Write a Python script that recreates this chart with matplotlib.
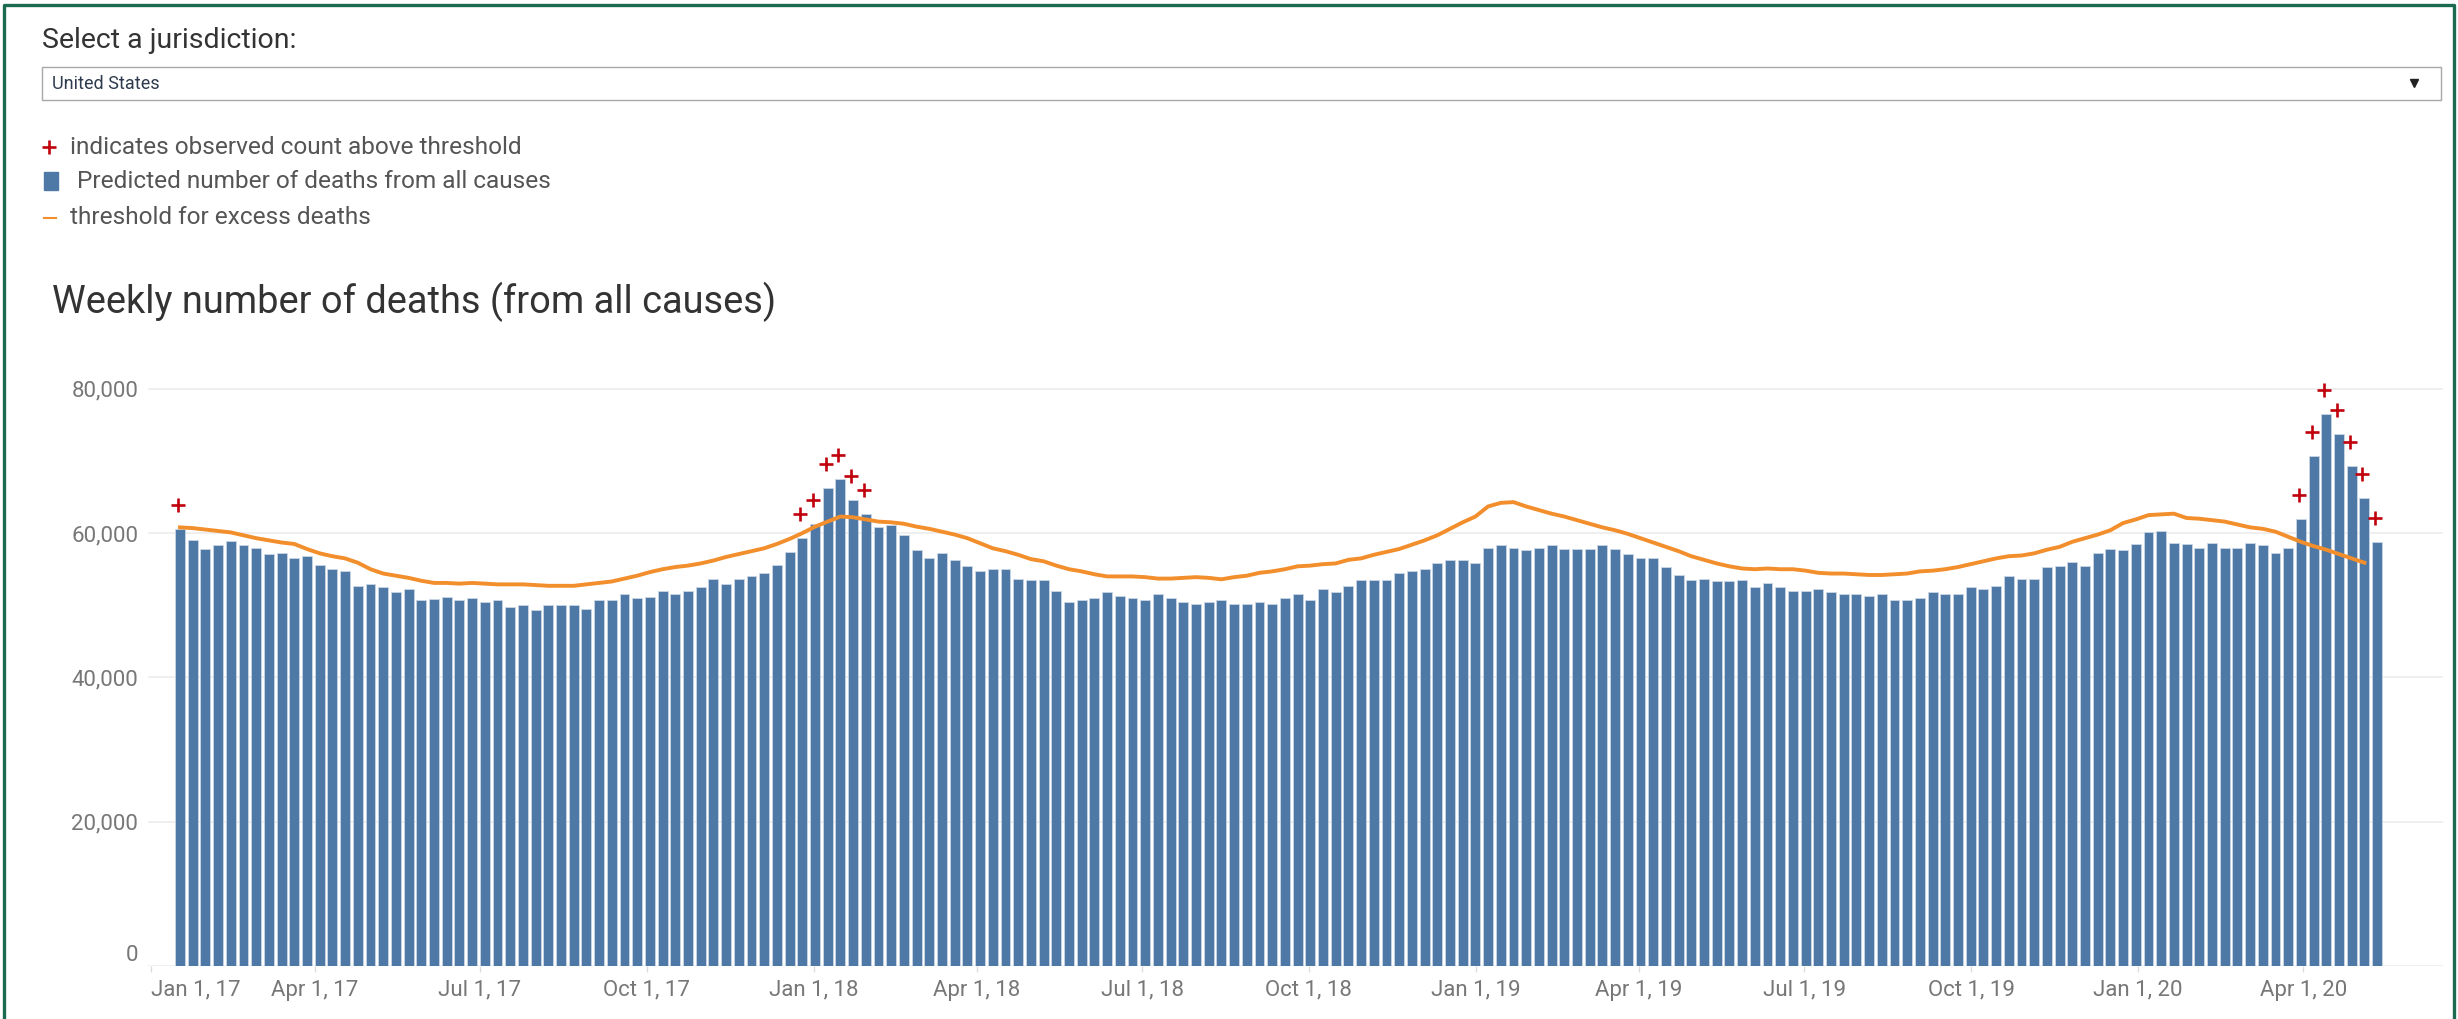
import numpy as np
import pandas as pd
import matplotlib
matplotlib.use("Agg")
import matplotlib.pyplot as plt
import matplotlib.dates as mdates
import matplotlib.transforms as mtransforms
from matplotlib.patches import Rectangle
from matplotlib.lines import Line2D

plt.rcParams['font.family'] = ['Liberation Sans Narrow', 'Roboto', 'DejaVu Sans']

FIRST_WEEK = "2017-01-14"

# weekly deaths, in thousands, one value per bar
deaths_k = [
    60.6, 59.1, 57.8, 58.3, 58.9, 58.3, 58.0, 57.1, 57.3, 56.5, 56.8, 55.6, 55.0, 54.7, 52.7, 53.0,
    52.5, 51.8, 52.2, 50.7, 50.9, 51.2, 50.7, 51.0, 50.4, 50.7, 49.7, 50.0, 49.3, 50.0, 50.0, 50.0,
    49.5, 50.7, 50.7, 51.5, 51.0, 51.2, 52.0, 51.5, 52.0, 52.5, 53.6, 53.0, 53.6, 54.0, 54.5, 55.6,
    57.4, 59.3, 61.3, 66.2, 67.5, 64.6, 62.7, 60.9, 61.1, 59.7, 57.6, 56.5, 57.2, 56.3, 55.5, 54.8,
    55.0, 55.0, 53.7, 53.5, 53.5, 52.0, 50.4, 50.7, 51.0, 51.8, 51.3, 51.0, 50.7, 51.5, 51.0, 50.4,
    50.2, 50.5, 50.7, 50.2, 50.2, 50.5, 50.2, 51.0, 51.5, 50.7, 52.3, 51.8, 52.7, 53.5, 53.5, 53.5,
    54.5, 54.8, 55.0, 55.8, 56.3, 56.3, 55.8, 58.0, 58.4, 58.0, 57.6, 58.0, 58.4, 57.8, 57.8, 57.8,
    58.4, 57.8, 57.1, 56.5, 56.5, 55.3, 54.2, 53.5, 53.7, 53.3, 53.3, 53.5, 52.5, 53.1, 52.5, 52.0,
    52.0, 52.3, 51.8, 51.5, 51.5, 51.3, 51.5, 50.7, 50.7, 51.0, 51.8, 51.5, 51.5, 52.5, 52.2, 52.7,
    54.0, 53.7, 53.7, 55.3, 55.5, 56.0, 55.5, 57.3, 57.8, 57.6, 58.5, 60.1, 60.3, 58.7, 58.5, 58.0,
    58.6, 58.0, 58.0, 58.6, 58.3, 57.3, 58.0, 61.9, 70.7, 76.5, 73.7, 69.3, 64.9, 58.8,
]

# threshold for excess deaths, in thousands (no value for the last week)
threshold_k = [
    60.8, 60.7, 60.5, 60.3, 60.1, 59.7, 59.3, 59.0, 58.7, 58.5, 57.8, 57.2, 56.8, 56.5, 55.9, 55.0,
    54.4, 54.1, 53.8, 53.4, 53.1, 53.1, 53.0, 53.1, 53.0, 52.9, 52.9, 52.9, 52.8, 52.7, 52.7, 52.7,
    52.9, 53.1, 53.3, 53.7, 54.1, 54.6, 55.0, 55.3, 55.5, 55.8, 56.2, 56.7, 57.1, 57.5, 57.9, 58.5,
    59.2, 60.0, 60.9, 61.6, 62.3, 62.2, 61.9, 61.6, 61.5, 61.3, 60.9, 60.6, 60.2, 59.8, 59.3, 58.6,
    57.9, 57.5, 57.0, 56.4, 56.1, 55.5, 55.0, 54.7, 54.3, 54.0, 54.0, 54.0, 53.9, 53.7, 53.7, 53.8,
    53.9, 53.8, 53.6, 53.9, 54.1, 54.5, 54.7, 55.0, 55.4, 55.5, 55.7, 55.8, 56.3, 56.5, 57.0, 57.4,
    57.8, 58.4, 59.0, 59.7, 60.6, 61.5, 62.3, 63.7, 64.2, 64.3, 63.7, 63.2, 62.7, 62.3, 61.8, 61.3,
    60.8, 60.4, 59.9, 59.3, 58.7, 58.1, 57.5, 56.8, 56.3, 55.8, 55.4, 55.1, 55.0, 55.1, 55.0, 55.0,
    54.8, 54.5, 54.4, 54.4, 54.3, 54.2, 54.2, 54.3, 54.4, 54.7, 54.8, 55.0, 55.3, 55.7, 56.1, 56.5,
    56.8, 56.9, 57.2, 57.7, 58.1, 58.8, 59.3, 59.8, 60.4, 61.4, 61.9, 62.5, 62.6, 62.7, 62.1, 62.0,
    61.8, 61.6, 61.2, 60.8, 60.6, 60.2, 59.5, 58.8, 58.2, 57.7, 57.1, 56.5, 55.9,
]

# bar numbers (1-based) flagged with a red "+"
above_threshold = [1, 50, 51, 52, 53, 54, 55, 168, 169, 170, 171, 172, 173, 174]

tick_dates = ["2017-01-01", "2017-04-01", "2017-07-01", "2017-10-01",
              "2018-01-01", "2018-04-01", "2018-07-01", "2018-10-01",
              "2019-01-01", "2019-04-01", "2019-07-01", "2019-10-01",
              "2020-01-01", "2020-04-01"]
tick_labels = ["Jan 1, 17", "Apr 1, 17", "Jul 1, 17", "Oct 1, 17",
               "Jan 1, 18", "Apr 1, 18", "Jul 1, 18", "Oct 1, 18",
               "Jan 1, 19", "Apr 1, 19", "Jul 1, 19", "Oct 1, 19",
               "Jan 1, 20", "Apr 1, 20"]
y_ticks = [0, 20000, 40000, 60000, 80000]

BLUE = "#4e79a7"
ORANGE = "#f28e2b"
RED = "#c0000b"
GREEN = "#1b6b52"

W, H = 2458, 1019
BAR_DAYS = 5.5
AX_LEFT, AX_RIGHT = 148, 2443   # plot area in pixels
FIRST_BAR_PX = 175               # left edge of first bar
PX_PER_DAY = 12.7 / 7


def fx(x):
    return x / W


def fy(y):
    return 1 - y / H


weeks = pd.date_range(FIRST_WEEK, periods=len(deaths_k), freq="7D")
x_left = mdates.date2num(weeks)
x_mid = x_left + BAR_DAYS / 2
deaths = np.array(deaths_k) * 1000
threshold = np.array(threshold_k) * 1000

fig = plt.figure(figsize=(W / 100, H / 100), dpi=100)
fig.patch.set_facecolor("white")

# plot area: 0 at y=966px, top at 360px (84k)
ax = fig.add_axes([fx(AX_LEFT), fy(966), fx(AX_RIGHT - AX_LEFT), (966 - 360) / H])
ax.bar(x_left, deaths, width=BAR_DAYS, align="edge", color=BLUE,
       edgecolor="#c9d6e4", linewidth=0.6, zorder=2)
ax.plot(x_mid[:len(threshold)], threshold, color=ORANGE, lw=2.8, zorder=3,
        solid_joinstyle="round")

up = mtransforms.offset_copy(ax.transData, fig=fig, x=-2, y=24, units="dots")
idx = np.array(above_threshold) - 1
ax.plot(x_mid[idx], deaths[idx], linestyle="none", marker="+", color=RED,
        markersize=10, markeredgewidth=1.9, transform=up, zorder=4, clip_on=False)

for s in ax.spines.values():
    s.set_visible(False)
ax.yaxis.grid(True, color="#ececec", lw=1.2, zorder=0)
ax.set_axisbelow(True)

ax.set_yticks(y_ticks)
ax.set_yticklabels([f"{v:,}" for v in y_ticks])
ax.tick_params(axis="y", length=0, pad=7, labelsize=16, labelcolor="#777777")
ax.get_yticklabels()[0].set_va("bottom")

ax.set_xticks(mdates.date2num(pd.to_datetime(tick_dates)))
ax.set_xticklabels(tick_labels)
ax.tick_params(axis="x", length=4, width=1, color="#dddddd", pad=6,
               labelsize=16, labelcolor="#777777")
ax.get_xticklabels()[0].set_ha("left")

ax.set_xlim(x_left[0] - (FIRST_BAR_PX - AX_LEFT) / PX_PER_DAY,
            x_left[0] + (AX_RIGHT - FIRST_BAR_PX) / PX_PER_DAY)
ax.set_ylim(0, 84000)

# header: selector and legend
fig.text(fx(42), fy(41), "Select a jurisdiction:", fontsize=20.5, color="#333333", va="center")
fig.add_artist(Rectangle((fx(42), fy(100)), fx(2441 - 42), 33 / H, fill=False,
                         ec="#a8a8a8", lw=1, transform=fig.transFigure))
fig.text(fx(52), fy(84), "United States", fontsize=13, color="#2e3b4e", va="center")
fig.add_artist(Line2D([fx(2414)], [fy(83)], marker="v", markersize=6, color="#222222",
                      transform=fig.transFigure))

fig.add_artist(Line2D([fx(49)], [fy(147)], marker="+", markersize=10, markeredgewidth=1.9,
                      color=RED, transform=fig.transFigure))
fig.text(fx(70), fy(147), "indicates observed count above threshold", fontsize=17.6,
         color="#555555", va="center")
fig.add_artist(Rectangle((fx(44), fy(190)), fx(14), 18 / H, color=BLUE,
                         transform=fig.transFigure))
fig.text(fx(77), fy(182), "Predicted number of deaths from all causes", fontsize=17.6,
         color="#555555", va="center")
fig.add_artist(Line2D([fx(44), fx(56)], [fy(218), fy(218)], color=ORANGE, lw=1.5,
                      transform=fig.transFigure))
fig.text(fx(70), fy(218), "threshold for excess deaths", fontsize=17.6,
         color="#555555", va="center")

fig.text(fx(52), fy(302), "Weekly number of deaths (from all causes)", fontsize=27.4,
         color="#333333", va="center")

# dark green frame (left, top, right)
fig.add_artist(Line2D([fx(4), fx(4), fx(2454), fx(2454)], [0, fy(5), fy(5), 0],
                      color=GREEN, lw=2.4, transform=fig.transFigure))

fig.savefig("out.png", dpi=100)
